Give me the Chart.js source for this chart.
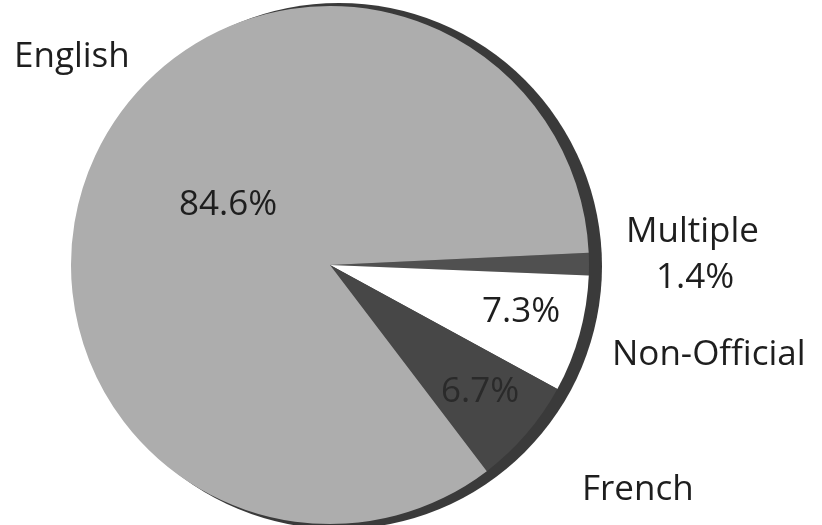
<!DOCTYPE html>
<html>
<head>
<meta charset="utf-8">
<script src="https://cdn.jsdelivr.net/npm/chart.js@4/dist/chart.umd.min.js"></script>
<style>
  html, body { margin: 0; padding: 0; background: #fff; }
  #wrap { width: 822px; height: 525px; }
</style>
</head>
<body>
<div id="wrap"><canvas id="langChart"></canvas></div>
<script>
// 言語別の割合 (clockwise from the right edge)
var categories = ['Multiple', 'Non-Official', 'French', 'English'];
var shares = [1.4, 7.3, 6.7, 84.6];
var valueLabels = ['1.4%', '7.3%', '6.7%', '84.6%'];

var sliceColors = ['#505050', '#ffffff', '#474747', '#adadad'];

// where the texts sit
var namePos = {
  'Multiple': [626, 242],
  'Non-Official': [612, 365],
  'French': [582, 500],
  'English': [14, 67]
};
var valuePos = {
  'Multiple': [656, 288],
  'Non-Official': [482, 322],
  'French': [441, 402],
  'English': [179, 215]
};
var valueColor = {
  'Multiple': '#1e1e1e',
  'Non-Official': '#1e1e1e',
  'French': '#2a2a2a',
  'English': '#1e1e1e'
};

// dark back edge so the pie looks a bit 3D
var rimPlugin = {
  id: 'rim',
  beforeDatasetsDraw: function (chart) {
    var arc = chart.getDatasetMeta(0).data[0];
    if (!arc) return;
    var ctx = chart.ctx;
    ctx.save();
    ctx.fillStyle = '#3a3a3a';
    ctx.beginPath();
    ctx.arc(arc.x + 9, arc.y + 1, arc.outerRadius + 4, 0, Math.PI * 2);
    ctx.fill();
    ctx.restore();
  }
};

var textPlugin = {
  id: 'texts',
  afterDatasetsDraw: function (chart) {
    var ctx = chart.ctx;
    ctx.save();
    ctx.textAlign = 'left';
    ctx.textBaseline = 'alphabetic';
    ctx.font = '35px "Open Sans"';
    categories.forEach(function (c, i) {
      ctx.fillStyle = '#1e1e1e';
      ctx.fillText(c, namePos[c][0], namePos[c][1]);
      ctx.fillStyle = valueColor[c];
      ctx.fillText(valueLabels[i], valuePos[c][0], valuePos[c][1]);
    });
    ctx.restore();
  }
};

var ctx = document.getElementById('langChart').getContext('2d');
var myChart = new Chart(ctx, {
  type: 'pie',
  data: {
    labels: categories,
    datasets: [{
      data: shares,
      backgroundColor: sliceColors,
      borderWidth: 0
    }]
  },
  options: {
    responsive: true,
    maintainAspectRatio: false,
    rotation: 87.3,
    layout: {
      padding: { left: 71, right: 233, top: 6, bottom: 1 }
    },
    plugins: {
      legend: { display: false },
      tooltip: { enabled: false }
    },
    animation: false
  },
  plugins: [rimPlugin, textPlugin]
});
</script>
</body>
</html>
